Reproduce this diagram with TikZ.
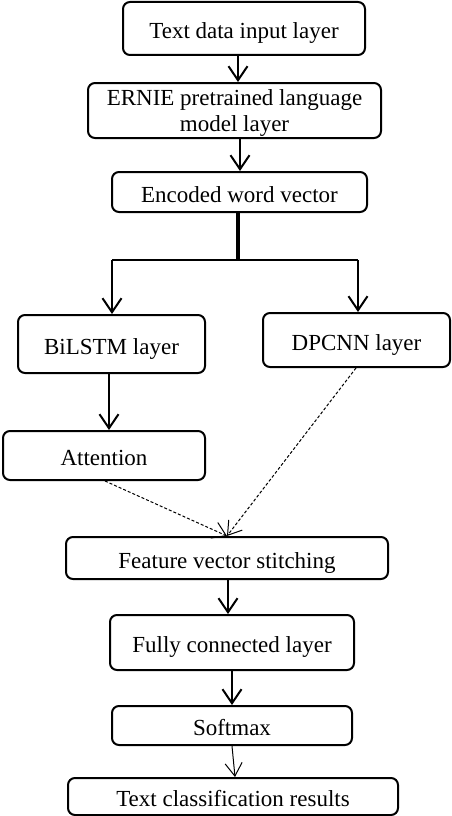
\documentclass[tikz,border=0pt]{standalone}
\usepackage{fontspec}
\setmainfont{Liberation Serif}
\usetikzlibrary{arrows.meta}
\begin{document}
\begin{tikzpicture}[x=1pt,y=-1pt,
  box/.style={draw, line width=2pt, rounded corners=7pt, inner sep=0pt, align=center, font=\fontsize{23}{26}\selectfont},
  onebox/.style={box, text height=20pt, text depth=0pt},
  conn/.style={line width=2pt, -{Straight Barb[length=14pt,width=19pt,line width=2pt]}},
  thinconn/.style={line width=1pt, -{Straight Barb[length=13pt,width=17pt,line width=1pt]}},
  dconn/.style={line width=1pt, dash pattern=on 3pt off 2pt, -{Straight Barb[length=13pt,width=17pt,line width=1pt]}}]
\useasboundingbox (0,0) rectangle (452,816);
\node[onebox, minimum width=242, minimum height=53] (b1) at (244,28.5) {Text data input layer};
\node[box, minimum width=293, minimum height=55] (b2) at (234.5,110.5) {};
\node[font=\fontsize{23}{26}\selectfont, align=center, inner sep=0pt] (b2t) at (234.5,113.5) {ERNIE pretrained language\\model layer};
\node[onebox, minimum width=255, minimum height=40] (b3) at (239.5,192) {Encoded word vector};
\node[onebox, minimum width=187, minimum height=58] (bl) at (111.5,344) {BiLSTM layer};
\node[onebox, minimum width=187, minimum height=54] (dp) at (356.5,340) {DPCNN layer};
\node[onebox, minimum width=202, minimum height=49] (att) at (104,455.5) {Attention};
\node[onebox, minimum width=322, minimum height=42] (fv) at (227,558) {Feature vector stitching};
\node[onebox, minimum width=244, minimum height=55] (fc) at (232,642.5) {Fully connected layer};
\node[onebox, minimum width=240, minimum height=39] (sm) at (232,725.5) {Softmax};
\node[onebox, minimum width=330, minimum height=37] (tc) at (233,796.5) {Text classification results};
\coordinate (j) at (238,260);
\coordinate (jl) at (112,260);
\coordinate (jr) at (358,260);
\draw[conn] (b1.south -| 238,0) -- (b2.north -| 238,0);
\draw[conn] (b2.south -| 240,0) -- (b3.north -| 240,0);
\draw[line width=3.5pt] (b3.south -| 238,0) -- (j);
\draw[line width=2pt] (jl) -- (jr);
\draw[conn] (jl) -- (bl.north -| jl);
\draw[conn] (jr) -- (dp.north -| jr);
\draw[conn] (bl.south -| 109,0) -- (att.north -| 109,0);
\draw[dconn] (att.south -| 105,0) -- (fv.north -| 227,0);
\draw[dconn] (dp.south -| 356,0) -- (fv.north -| 227,0);
\draw[conn] (fv.south -| 228,0) -- (fc.north -| 228,0);
\draw[conn] (fc.south -| 232,0) -- (sm.north -| 232,0);
\draw[thinconn] (sm.south -| 232,0) -- (tc.north -| 235,0);
\end{tikzpicture}
\end{document}
